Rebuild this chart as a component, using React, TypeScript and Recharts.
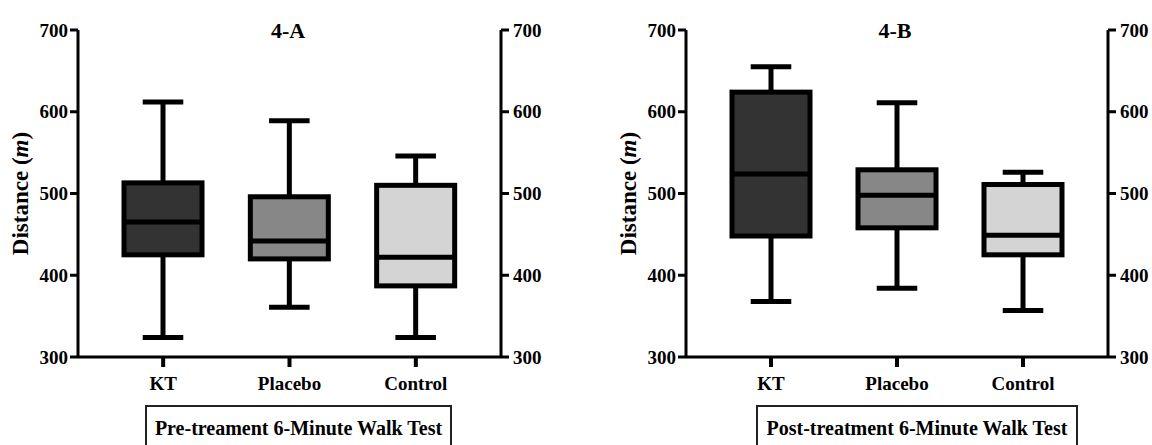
import React from 'react';
import { ComposedChart, Bar, Line, XAxis, YAxis, Label } from 'recharts';

const categories = ['KT', 'Placebo', 'Control'];
const preMin = [324, 361, 324];
const preQ1 = [425, 420, 387];
const preMedian = [465, 442, 422];
const preQ3 = [513, 496, 510];
const preMax = [612, 589, 546];
const postMin = [368, 384, 357];
const postQ1 = [448, 458, 425];
const postMedian = [524, 498, 449];
const postQ3 = [624, 529, 511];
const postMax = [655, 611, 526];
const boxFills = ['#333333', '#878787', '#d4d4d4'];
const yTicks = [300, 400, 500, 600, 700];
const panelTitles = ['4-A', '4-B'];
const panelCaptions = ['Pre-treament 6-Minute Walk Test', 'Post-treatment 6-Minute Walk Test'];

const FONT = "'Liberation Serif', 'DejaVu Serif', serif";
const X_TICK_SIZE = 9;
const X_TICK_MARGIN = 11;

type Row = { name: string; min: number; q1: number; median: number; q3: number; max: number; fill: string };

const build = (mn: number[], q1: number[], md: number[], q3: number[], mx: number[]): Row[] =>
  categories.map((name, i) => ({ name, min: mn[i], q1: q1[i], median: md[i], q3: q3[i], max: mx[i], fill: boxFills[i] }));

const preData = build(preMin, preQ1, preMedian, preQ3, preMax);
const postData = build(postMin, postQ1, postMedian, postQ3, postMax);

const BoxShape = (props: any) => {
  const { x, y, width, height, payload } = props;
  const top = Math.min(y, y + height);
  const bottom = Math.max(y, y + height);
  const lo = payload.min;
  const hi = payload.max;
  const py = (v: number) => bottom - ((v - lo) / (hi - lo)) * (bottom - top);
  const cx = x + width / 2;
  const capHalf = width * 0.26;
  const sw = 5;
  return (
    <g>
      <line x1={cx} x2={cx} y1={py(payload.max)} y2={py(payload.q3)} stroke="#000" strokeWidth={sw} />
      <line x1={cx} x2={cx} y1={py(payload.q1)} y2={py(payload.min)} stroke="#000" strokeWidth={sw} />
      <line x1={cx - capHalf} x2={cx + capHalf} y1={py(payload.max)} y2={py(payload.max)} stroke="#000" strokeWidth={sw} />
      <line x1={cx - capHalf} x2={cx + capHalf} y1={py(payload.min)} y2={py(payload.min)} stroke="#000" strokeWidth={sw} />
      <rect x={x} y={py(payload.q3)} width={width} height={py(payload.q1) - py(payload.q3)} fill={payload.fill} stroke="#000" strokeWidth={sw} />
      <line x1={x} x2={x + width} y1={py(payload.median)} y2={py(payload.median)} stroke="#000" strokeWidth={sw} />
    </g>
  );
};

const XTick = (props: any) => {
  const { x, y, payload } = props;
  const axisY = y - X_TICK_SIZE - X_TICK_MARGIN;
  return (
    <g>
      <rect x={x - 2} y={axisY} width={4} height={X_TICK_SIZE + 1} fill="#000" />
      <text x={x} y={y} dy="0.71em" textAnchor="middle" fill="#000"
        style={{ fontFamily: FONT, fontWeight: 'bold', fontSize: 19 }}>{payload.value}</text>
    </g>
  );
};

const yLabelContent = (props: any) => {
  const vb = props.viewBox || {};
  const cx = vb.x + 12;
  const cy = vb.y + vb.height / 2;
  return (
    <text x={cx} y={cy} transform={`rotate(-90 ${cx} ${cy})`} textAnchor="middle" dominantBaseline="central"
      style={{ fontFamily: FONT, fontWeight: 'bold', fontSize: 23 }} fill="#000">
      Distance (<tspan fontStyle="italic">m</tspan>)
    </text>
  );
};

const tickStyle = { fill: '#000', fontSize: 19, fontWeight: 'bold', fontFamily: FONT, style: { fontFamily: FONT } };
const lineStyle = { stroke: '#000', strokeWidth: 3 };

const Panel = ({ data, margin, leftW, rightW }: { data: Row[]; margin: any; leftW: number; rightW: number }) => (
  <ComposedChart width={576} height={445} data={data} margin={margin} style={{ fontFamily: FONT }}>
    <XAxis dataKey="name" type="category" padding={{ left: 22, right: 22 }} axisLine={lineStyle} tickLine={false}
      tickSize={X_TICK_SIZE} tickMargin={X_TICK_MARGIN} height={40} tick={<XTick />} interval={0} />
    <YAxis yAxisId="left" orientation="left" type="number" domain={[300, 700]} ticks={yTicks} width={leftW}
      axisLine={lineStyle} tickLine={lineStyle} tickSize={8} tickMargin={2} tick={tickStyle} interval={0}>
      <Label content={yLabelContent} />
    </YAxis>
    <YAxis yAxisId="right" orientation="right" type="number" domain={[300, 700]} ticks={yTicks} width={rightW}
      axisLine={lineStyle} tickLine={lineStyle} tickSize={8} tickMargin={4} tick={tickStyle} interval={0} />
    <Bar yAxisId="left" dataKey={(d: Row) => [d.min, d.max]} barSize={78} shape={<BoxShape />} isAnimationActive={false} />
    <Line yAxisId="right" dataKey="median" stroke="none" strokeOpacity={0} dot={false} activeDot={false}
      legendType="none" isAnimationActive={false} />
  </ComposedChart>
);

const textStyle = { fontFamily: FONT, fontWeight: 'bold' as const };

export default function App() {
  return (
    <div style={{ position: 'absolute', left: 0, top: 0, width: 1152, height: 445, overflow: 'hidden', background: '#fff', fontFamily: FONT }}>
      <div style={{ position: 'absolute', left: 0, top: 0 }}>
        <Panel data={preData} margin={{ top: 30, right: 15, bottom: 48, left: 8 }} leftW={70} rightW={60} />
      </div>
      <div style={{ position: 'absolute', left: 576, top: 0 }}>
        <Panel data={postData} margin={{ top: 30, right: 4, bottom: 48, left: 40 }} leftW={70} rightW={40} />
      </div>
      <svg width={1152} height={445} style={{ position: 'absolute', left: 0, top: 0, pointerEvents: 'none' }}>
        <text x={288} y={38} textAnchor="middle" style={{ ...textStyle, fontSize: 22 }} fill="#000">{panelTitles[0]}</text>
        <text x={895} y={38} textAnchor="middle" style={{ ...textStyle, fontSize: 22 }} fill="#000">{panelTitles[1]}</text>
        <rect x={146} y={406} width={305} height={60} fill="none" stroke="#222" strokeWidth={2} />
        <text x={298.5} y={435} textAnchor="middle" style={{ ...textStyle, fontSize: 20 }} fill="#000">{panelCaptions[0]}</text>
        <rect x={757} y={406} width={320} height={60} fill="none" stroke="#222" strokeWidth={2} />
        <text x={917} y={435} textAnchor="middle" style={{ ...textStyle, fontSize: 20 }} fill="#000">{panelCaptions[1]}</text>
      </svg>
    </div>
  );
}
